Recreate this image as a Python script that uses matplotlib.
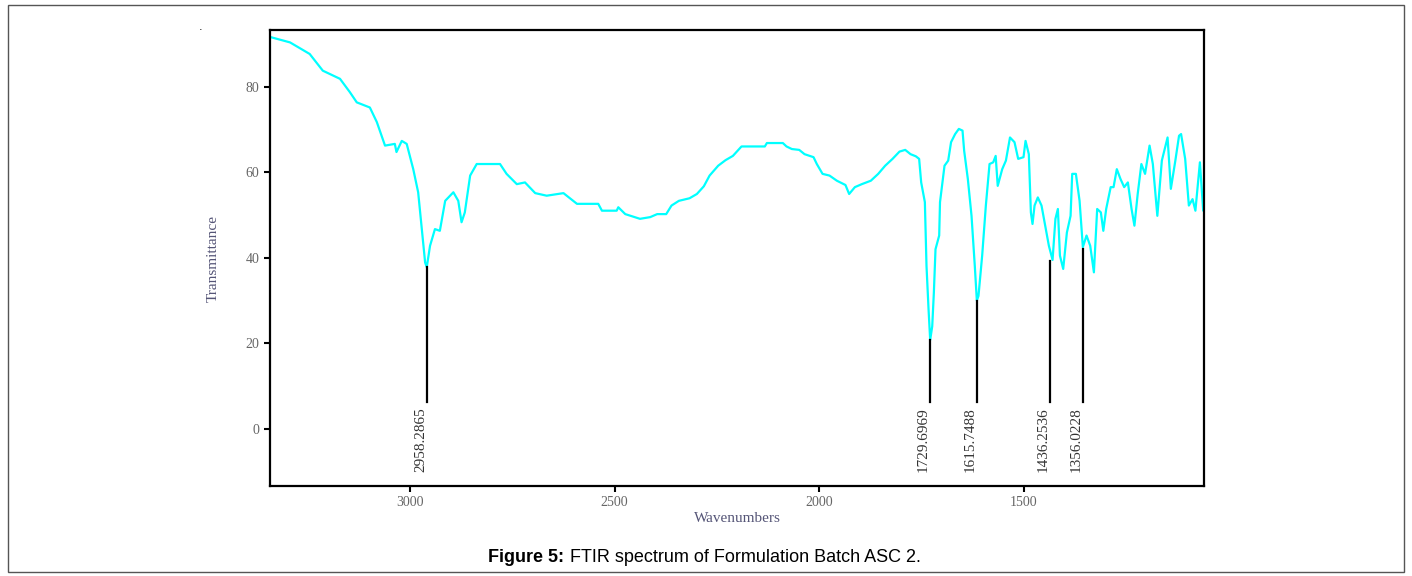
import matplotlib.pyplot as plt
from matplotlib.patches import Rectangle

# spectrum (wavenumber, transmittance)
wavenumber = [3339, 3293, 3245, 3213, 3171, 3147, 3130, 3098, 3081, 3061,
              3037, 3033, 3020, 3008, 2992, 2980, 2971, 2963, 2959, 2951,
              2939, 2927, 2914, 2894, 2882, 2874, 2866, 2853, 2837, 2780,
              2764, 2739, 2719, 2694, 2666, 2625, 2592, 2540, 2531, 2495,
              2491, 2474, 2438, 2413, 2396, 2374, 2361, 2343, 2317, 2299,
              2282, 2268, 2247, 2229, 2211, 2190, 2133, 2128, 2089, 2080,
              2067, 2049, 2036, 2014, 2006, 1992, 1975, 1957, 1936, 1927,
              1913, 1896, 1874, 1856, 1839, 1821, 1804, 1790, 1777, 1764,
              1756, 1751, 1742, 1738, 1733, 1729, 1724, 1720, 1716, 1707,
              1705, 1694, 1685, 1678, 1668, 1659, 1650, 1646, 1637, 1628,
              1620, 1615, 1611, 1602, 1593, 1584, 1575, 1569, 1564, 1553,
              1544, 1534, 1523, 1514, 1501, 1496, 1488, 1483, 1479, 1474,
              1466, 1457, 1448, 1439, 1430, 1423, 1417, 1412, 1404, 1395,
              1386, 1382, 1373, 1364, 1356, 1347, 1338, 1329, 1321, 1312,
              1306, 1299, 1288, 1281, 1273, 1264, 1255, 1246, 1237, 1230,
              1222, 1213, 1204, 1193, 1185, 1174, 1163, 1149, 1141, 1130,
              1121, 1116, 1106, 1097, 1088, 1081, 1070, 1062, 1058]
transmittance = [91.5, 90.3, 87.6, 83.7, 81.8, 78.7, 76.3, 75.1, 71.7, 66.2,
                 66.6, 64.7, 67.3, 66.6, 60.7, 55.3, 46.7, 38.9, 37.8, 42.8,
                 46.7, 46.3, 53.3, 55.3, 53.3, 48.3, 50.6, 59.2, 61.9, 61.9,
                 59.6, 57.2, 57.6, 55.1, 54.5, 55.1, 52.6, 52.6, 51.0, 51.0,
                 51.8, 50.2, 49.1, 49.5, 50.2, 50.2, 52.2, 53.3, 53.9, 54.9,
                 56.7, 59.2, 61.5, 62.8, 63.8, 66.0, 66.0, 66.8, 66.8, 66.0,
                 65.4, 65.2, 64.2, 63.5, 61.9, 59.6, 59.2, 58.0, 57.0, 54.9,
                 56.5, 57.2, 58.0, 59.6, 61.5, 63.1, 64.8, 65.2, 64.2, 63.7,
                 63.1, 57.6, 53.0, 38.1, 28.0, 20.8, 24.0, 31.9, 42.0, 45.2,
                 53.0, 61.5, 62.7, 67.0, 68.9, 70.1, 69.7, 65.0, 58.4, 49.8,
                 38.1, 30.0, 31.1, 40.5, 52.2, 61.9, 62.3, 63.8, 56.8, 60.7,
                 62.7, 68.1, 67.0, 63.1, 63.5, 67.3, 64.2, 50.6, 47.9, 52.2,
                 54.1, 52.2, 47.5, 42.8, 39.5, 49.1, 51.4, 40.5, 37.4, 45.9,
                 49.8, 59.6, 59.6, 53.3, 42.5, 45.2, 42.8, 36.6, 51.4, 50.6,
                 46.3, 51.4, 56.5, 56.5, 60.7, 58.4, 56.5, 57.6, 51.4, 47.5,
                 54.9, 61.9, 59.6, 66.2, 61.9, 49.8, 62.7, 68.1, 56.1, 62.7,
                 68.5, 68.9, 63.1, 52.2, 53.7, 51.0, 62.3, 51.0, 54.9]

peak_pos = [2958.2865, 1729.6969, 1615.7488, 1436.2536, 1356.0228]
peak_top = [37.8, 20.8, 30.0, 39.2, 42.0]
peak_labels = ["2958.2865", "1729.6969", "1615.7488", "1436.2536", "1356.0228"]

x_ticks = [3000, 2500, 2000, 1500]
y_ticks = [0, 20, 40, 60, 80]

fig = plt.figure(figsize=(14.12, 5.76), dpi=100)
ax = fig.add_axes([270 / 1412, 1 - 486 / 576, 934 / 1412, 456 / 576])

ax.plot(wavenumber, transmittance, color='#00ffff', lw=1.6)

for pos, top, lab in zip(peak_pos, peak_top, peak_labels):
    ax.plot([pos, pos], [6.3, top], color='black', lw=1.6)
    ax.text(pos + 16, 5.2, lab, rotation=90, ha='center', va='top',
            fontsize=11, family='Liberation Serif', color='#333333')

ax.set_xlim(3342, 1060)
ax.set_ylim(-13.3, 93.2)
ax.set_xticks(x_ticks)
ax.set_yticks(y_ticks)
for s in ax.spines.values():
    s.set_linewidth(1.6)
ax.tick_params(direction='out', length=4, width=1.5, colors='black',
               labelcolor='#666666', labelsize=10)
for t in ax.get_xticklabels() + ax.get_yticklabels():
    t.set_family('Liberation Serif')

ax.set_ylabel('Transmittance', fontsize=11, family='Liberation Serif',
              color='#555577', labelpad=19)
ax.set_xlabel('Wavenumbers', fontsize=11, family='Liberation Serif',
              color='#555577', labelpad=2)

fig.text(0.142, 1 - 27 / 576, '.', fontsize=8, ha='center', va='center')

fig.text(488 / 1412, 1 - 557 / 576, 'Figure 5:', fontsize=13,
         fontweight='bold', family='Liberation Sans', ha='left', va='center')
fig.text(565 / 1412, 1 - 557 / 576, ' FTIR spectrum of Formulation Batch ASC 2.',
         fontsize=13, family='Liberation Sans', ha='left', va='center')

fig.patches.append(Rectangle((8 / 1412, 4 / 576), 1396 / 1412, 567 / 576,
                             transform=fig.transFigure, fill=False,
                             edgecolor='#555555', lw=1))

fig.savefig('out.png', dpi=100)
